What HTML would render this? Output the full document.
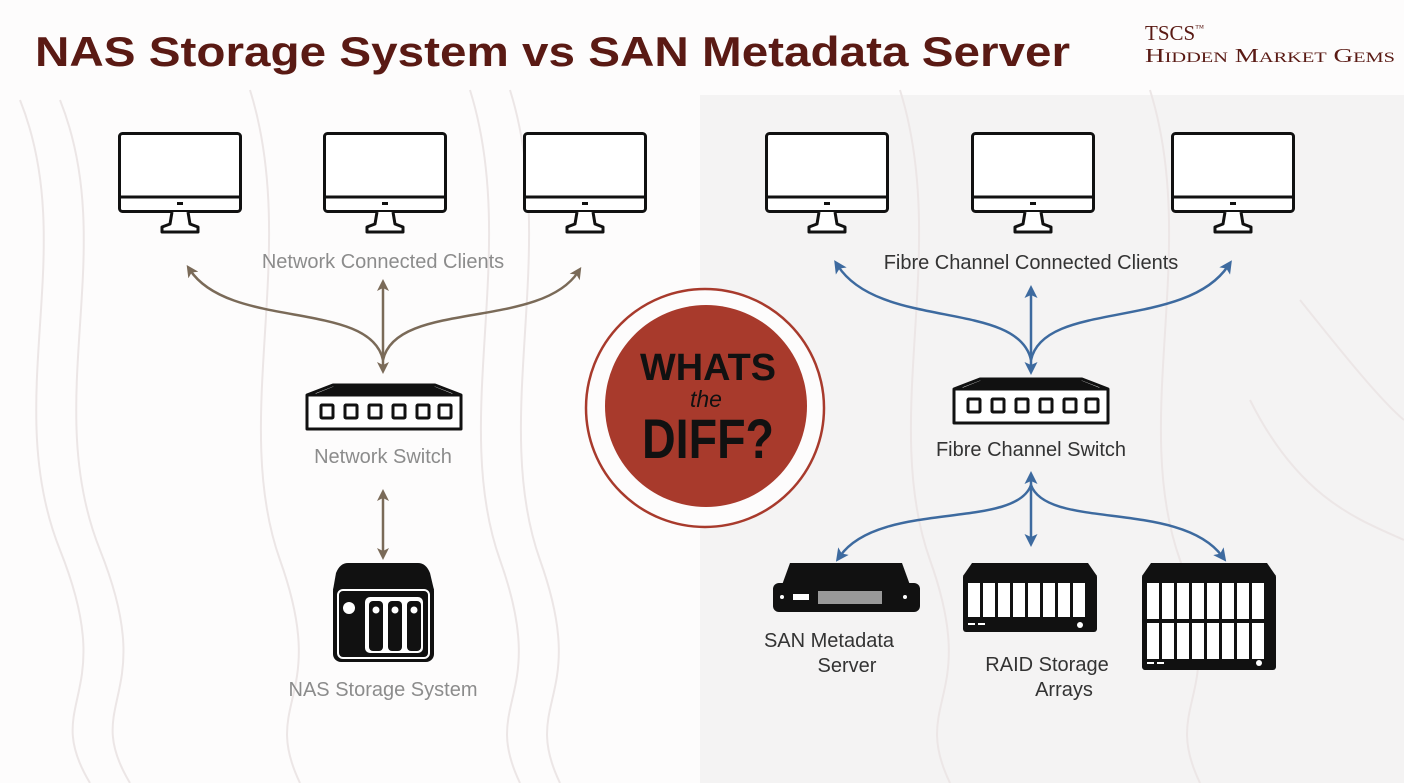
<!DOCTYPE html>
<html><head><meta charset="utf-8"><style>
html,body{margin:0;padding:0;background:#fff}
svg{display:block}
text{font-family:"Liberation Sans",sans-serif}
text.serif{font-family:"Liberation Serif",serif}
</style></head><body>
<svg width="1404" height="783" viewBox="0 0 1404 783" xmlns="http://www.w3.org/2000/svg">
<defs>
<g id="mon">
<rect x="1.5" y="1.5" width="121" height="78" rx="3" fill="#fff" stroke="#111" stroke-width="3"/>
<line x1="1.5" y1="65" x2="122.5" y2="65" stroke="#111" stroke-width="3"/>
<rect x="59" y="70" width="6" height="3" fill="#111"/>
<path d="M54 80 L52 92 L44 95 L44 100 L80 100 L80 95 L72 92 L70 80" fill="#fff" stroke="#111" stroke-width="3" stroke-linejoin="round"/>
</g>
<g id="sw">
<path d="M28 2 L130 2 L156 12 L156 46 L2 46 L2 12 Z" fill="#fff" stroke="#111" stroke-width="3" stroke-linejoin="round"/>
<path d="M2 12 L156 12" stroke="#111" stroke-width="3"/>
<path d="M30 3 L128 3 L148 11 L10 11 Z" fill="#111"/>
<g fill="none" stroke="#111" stroke-width="3">
<rect x="16" y="22" width="12" height="13" rx="1"/><rect x="40" y="22" width="12" height="13" rx="1"/><rect x="64" y="22" width="12" height="13" rx="1"/><rect x="88" y="22" width="12" height="13" rx="1"/><rect x="112" y="22" width="12" height="13" rx="1"/><rect x="134" y="22" width="12" height="13" rx="1"/>
</g>
</g>
<marker id="ab" markerWidth="12" markerHeight="12" refX="6" refY="6" orient="auto-start-reverse" markerUnits="userSpaceOnUse"><path d="M0 0 L12 6 L0 12 L3 6Z" fill="#7a6a58"/></marker>
<marker id="ablue" markerWidth="13" markerHeight="13" refX="6" refY="6.5" orient="auto-start-reverse" markerUnits="userSpaceOnUse"><path d="M0 0 L13 6.5 L0 13 L3 6.5Z" fill="#3d6a9f"/></marker>
</defs>
<rect width="1404" height="783" fill="#fdfcfc"/>
<rect x="700" y="95" width="704" height="688" fill="#f4f3f3"/>
<g fill="none" stroke="#ece6e6" stroke-width="2">
<path d="M20 100 C80 250 0 400 60 550 S40 700 90 783"/>
<path d="M60 100 C120 250 40 400 100 550 S80 700 130 783"/>
<path d="M250 90 C300 250 230 420 280 560 S260 700 300 783"/>
<path d="M470 90 C520 250 450 420 500 560 S480 700 520 783"/>
<path d="M510 90 C560 250 490 420 540 560 S520 700 560 783"/>
<path d="M900 90 C950 250 880 420 930 560 S910 700 950 783"/>
<path d="M1150 90 C1200 250 1130 420 1180 560 S1160 700 1200 783"/>
<path d="M1300 300 C1340 350 1380 400 1404 420"/>
<path d="M1250 400 C1300 500 1360 520 1404 540"/>
</g>
<text x="35" y="66" font-size="42" font-weight="bold" fill="#5a1a14" textLength="1035" lengthAdjust="spacingAndGlyphs">NAS Storage System vs SAN Metadata Server</text>
<text class="serif" x="1145" y="40" font-size="21" fill="#5a1a14">TSCS<tspan font-size="9" dy="-9">™</tspan></text>
<text class="serif" x="1145" y="62" font-size="20" fill="#5a1a14" textLength="250" lengthAdjust="spacingAndGlyphs">H<tspan font-size="15">IDDEN</tspan> M<tspan font-size="15">ARKET</tspan> G<tspan font-size="15">EMS</tspan></text>

<use href="#mon" x="118" y="132"/><use href="#mon" x="323" y="132"/><use href="#mon" x="523" y="132"/>
<use href="#mon" x="765" y="132"/><use href="#mon" x="971" y="132"/><use href="#mon" x="1171" y="132"/>

<g stroke="#7a6a58" stroke-width="2.5" fill="none">
<path d="M383 285 L383 368" marker-start="url(#ab)" marker-end="url(#ab)"/>
<path d="M383 360 C370 300 230 330 190 270" marker-end="url(#ab)"/>
<path d="M383 360 C396 300 540 330 578 272" marker-end="url(#ab)"/>
<path d="M383 495 L383 554" marker-start="url(#ab)" marker-end="url(#ab)"/>
</g>
<text x="383" y="268" font-size="20" fill="#8c8c8c" text-anchor="middle">Network Connected Clients</text>
<use href="#sw" x="305" y="383"/>
<text x="383" y="463" font-size="20" fill="#8c8c8c" text-anchor="middle">Network Switch</text>
<g>
<path d="M348 563 L418 563 Q426 563 430 573 L434 590 L333 590 L336 573 Q340 563 348 563Z" fill="#111"/>
<rect x="333" y="583" width="101" height="79" rx="8" fill="#111"/>
<rect x="338" y="590" width="91" height="68" rx="5" fill="none" stroke="#fff" stroke-width="2"/>
<circle cx="349" cy="608" r="6" fill="#fff"/>
<rect x="365" y="597" width="58" height="56" rx="5" fill="#fff"/>
<rect x="369" y="601" width="14" height="50" rx="4" fill="#111"/><rect x="388" y="601" width="14" height="50" rx="4" fill="#111"/><rect x="407" y="601" width="14" height="50" rx="4" fill="#111"/>
<circle cx="376" cy="610" r="3.5" fill="#fff"/><circle cx="395" cy="610" r="3.5" fill="#fff"/><circle cx="414" cy="610" r="3.5" fill="#fff"/>
</g>
<text x="383" y="696" font-size="20" fill="#8c8c8c" text-anchor="middle">NAS Storage System</text>

<circle cx="705" cy="408" r="119" fill="#fdfcfc" stroke="#a83a2c" stroke-width="2.5"/>
<circle cx="706" cy="406" r="101" fill="#a83a2c"/>
<text x="708" y="380" font-size="38" font-weight="bold" fill="#111" text-anchor="middle" textLength="136" lengthAdjust="spacingAndGlyphs">WHATS</text>
<text x="706" y="407" font-size="23" font-style="italic" fill="#111" text-anchor="middle">the</text>
<text x="708" y="458" font-size="56" font-weight="bold" fill="#111" text-anchor="middle" textLength="132" lengthAdjust="spacingAndGlyphs">DIFF?</text>

<g stroke="#3d6a9f" stroke-width="2.5" fill="none">
<path d="M1031 292 L1031 368" marker-start="url(#ablue)" marker-end="url(#ablue)"/>
<path d="M1031 360 C1018 300 880 330 838 266" marker-end="url(#ablue)"/>
<path d="M1031 360 C1044 300 1185 330 1228 266" marker-end="url(#ablue)"/>
<path d="M1031 478 L1031 540" marker-start="url(#ablue)" marker-end="url(#ablue)"/>
<path d="M1031 485 C1015 530 880 500 840 556" marker-end="url(#ablue)"/>
<path d="M1031 485 C1047 530 1180 500 1222 556" marker-end="url(#ablue)"/>
</g>
<text x="1031" y="269" font-size="20" fill="#333" text-anchor="middle">Fibre Channel Connected Clients</text>
<use href="#sw" x="952" y="377"/>
<text x="1031" y="456" font-size="20" fill="#333" text-anchor="middle">Fibre Channel Switch</text>

<g>
<path d="M790 563 L902 563 L910 585 L782 585Z" fill="#111"/>
<rect x="773" y="583" width="147" height="29" rx="6" fill="#111"/>
<circle cx="782" cy="597" r="2" fill="#fff"/><circle cx="905" cy="597" r="2" fill="#fff"/>
<rect x="793" y="594" width="16" height="6" fill="#fff"/>
<rect x="818" y="591" width="64" height="13" fill="#999"/>
</g>
<text x="829" y="647" font-size="20" fill="#333" text-anchor="middle">SAN Metadata</text>
<text x="847" y="672" font-size="20" fill="#333" text-anchor="middle">Server</text>

<g>
<path d="M972 563 L1088 563 L1097 576 L963 576Z" fill="#111"/>
<rect x="963" y="574" width="134" height="58" rx="3" fill="#111"/>
<g fill="#fff"><rect x="968" y="583" width="12" height="34"/><rect x="983" y="583" width="12" height="34"/><rect x="998" y="583" width="12" height="34"/><rect x="1013" y="583" width="12" height="34"/><rect x="1028" y="583" width="12" height="34"/><rect x="1043" y="583" width="12" height="34"/><rect x="1058" y="583" width="12" height="34"/><rect x="1073" y="583" width="12" height="34"/>
<rect x="968" y="623" width="7" height="2"/><rect x="978" y="623" width="7" height="2"/><circle cx="1080" cy="625" r="3"/></g>
</g>
<text x="1047" y="671" font-size="20" fill="#333" text-anchor="middle">RAID Storage</text>
<text x="1064" y="696" font-size="20" fill="#333" text-anchor="middle">Arrays</text>

<g>
<path d="M1151 563 L1267 563 L1276 576 L1142 576Z" fill="#111"/>
<rect x="1142" y="574" width="134" height="96" rx="3" fill="#111"/>
<g fill="#fff"><rect x="1147" y="583" width="12" height="36"/><rect x="1162" y="583" width="12" height="36"/><rect x="1177" y="583" width="12" height="36"/><rect x="1192" y="583" width="12" height="36"/><rect x="1207" y="583" width="12" height="36"/><rect x="1222" y="583" width="12" height="36"/><rect x="1237" y="583" width="12" height="36"/><rect x="1252" y="583" width="12" height="36"/>
<rect x="1147" y="623" width="12" height="36"/><rect x="1162" y="623" width="12" height="36"/><rect x="1177" y="623" width="12" height="36"/><rect x="1192" y="623" width="12" height="36"/><rect x="1207" y="623" width="12" height="36"/><rect x="1222" y="623" width="12" height="36"/><rect x="1237" y="623" width="12" height="36"/><rect x="1252" y="623" width="12" height="36"/>
<rect x="1147" y="662" width="7" height="2"/><rect x="1157" y="662" width="7" height="2"/><circle cx="1259" cy="663" r="3"/></g>
</g>
</svg>
</body></html>
